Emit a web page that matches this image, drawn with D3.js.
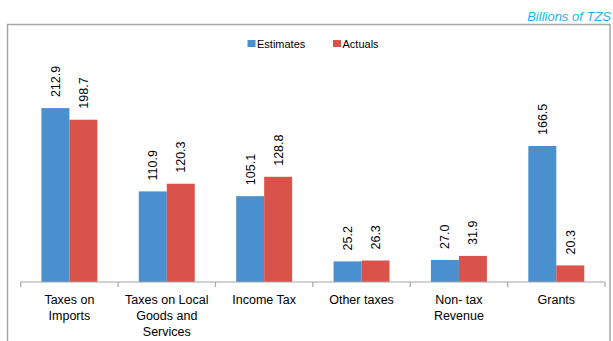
<!DOCTYPE html>
<html><head><meta charset="utf-8">
<script src="https://cdn.jsdelivr.net/npm/d3@7"></script>
<style>body{margin:0;background:#fff}svg{display:block}</style>
</head><body>
<script>
const categories = [["Taxes on","Imports"],["Taxes on Local","Goods and","Services"],["Income Tax"],["Other taxes"],["Non- tax","Revenue"],["Grants"]];
const seriesNames = ["Estimates","Actuals"];
const estimates = [212.9, 110.9, 105.1, 25.2, 27.0, 166.5];
const actuals = [198.7, 120.3, 128.8, 26.3, 31.9, 20.3];
const colors = ["#4a8fce","#d9534a"];

const W = 613, H = 341;
const svg = d3.select("body").append("svg").attr("width", W).attr("height", H);
const font = "'Liberation Sans', Arial, sans-serif";

svg.append("rect").attr("x",7.5).attr("y",24.5).attr("width",602.5).attr("height",330)
  .attr("fill","#fff").attr("stroke","#a6a6a6").attr("stroke-width",1.5);

svg.append("text").attr("x",611).attr("y",21).attr("text-anchor","end")
  .attr("font-family",font).attr("font-style","italic").attr("font-size",13)
  .attr("fill","#1fb1ef").text("Billions of TZS");

const x0 = d3.scaleBand().domain(d3.range(categories.length)).range([20.7, 605]).paddingInner(0).paddingOuter(0);
const x1 = d3.scaleBand().domain([0,1]).range([0, x0.bandwidth()]).paddingOuter(0.74).paddingInner(0);
const y = d3.scaleLinear().domain([0, 250]).range([282, 77.8]);

const data = categories.map((c,i)=>({i, vals:[estimates[i], actuals[i]]}));
const g = svg.append("g");
const grp = g.selectAll("g.cat").data(data).join("g").attr("transform", d=>`translate(${x0(d.i)},0)`);
grp.selectAll("rect").data(d=>d.vals.map((v,s)=>({v,s}))).join("rect")
  .attr("x", d=>x1(d.s)).attr("width", x1.bandwidth())
  .attr("y", d=>y(d.v)).attr("height", d=>y(0)-y(d.v))
  .attr("fill", d=>colors[d.s]);
grp.selectAll("text.val").data(d=>d.vals.map((v,s)=>({v,s}))).join("text")
  .attr("class","val")
  .attr("transform", d=>`translate(${x1(d.s)+x1.bandwidth()/2+4.5},${y(d.v)-11}) rotate(-90)`)
  .attr("font-family",font).attr("font-size",12.5).attr("fill","#000")
  .text(d=>d.v.toFixed(1));

// axis
const axisY = 282;
svg.append("line").attr("x1",20.7).attr("x2",605).attr("y1",axisY).attr("y2",axisY)
  .attr("stroke","#a6a6a6").attr("stroke-width",1.2);
const bounds = d3.range(categories.length+1).map(i=> i<categories.length ? x0(i) : x0(i-1)+x0.bandwidth());
svg.selectAll("line.tick").data(bounds).join("line").attr("class","tick")
  .attr("x1",d=>d).attr("x2",d=>d).attr("y1",axisY).attr("y2",axisY+5)
  .attr("stroke","#a6a6a6").attr("stroke-width",1.2);
categories.forEach((lines,i)=>{
  const t = svg.append("text").attr("text-anchor","middle").attr("font-family",font)
    .attr("font-size",12.5).attr("fill","#000");
  lines.forEach((l,k)=>t.append("tspan").attr("x", x0(i)+x0.bandwidth()/2).attr("y", 303.5+k*16).text(l));
});

// legend
const leg = svg.append("g");
const legX = [247.5, 333];
seriesNames.forEach((n,s)=>{
  leg.append("rect").attr("x",legX[s]).attr("y",40).attr("width",8).attr("height",7).attr("fill",colors[s]);
  leg.append("text").attr("x",legX[s]+9.5).attr("y",47.5).attr("font-family",font).attr("font-size",11)
    .attr("fill","#000").text(n);
});
</script>
</body></html>
